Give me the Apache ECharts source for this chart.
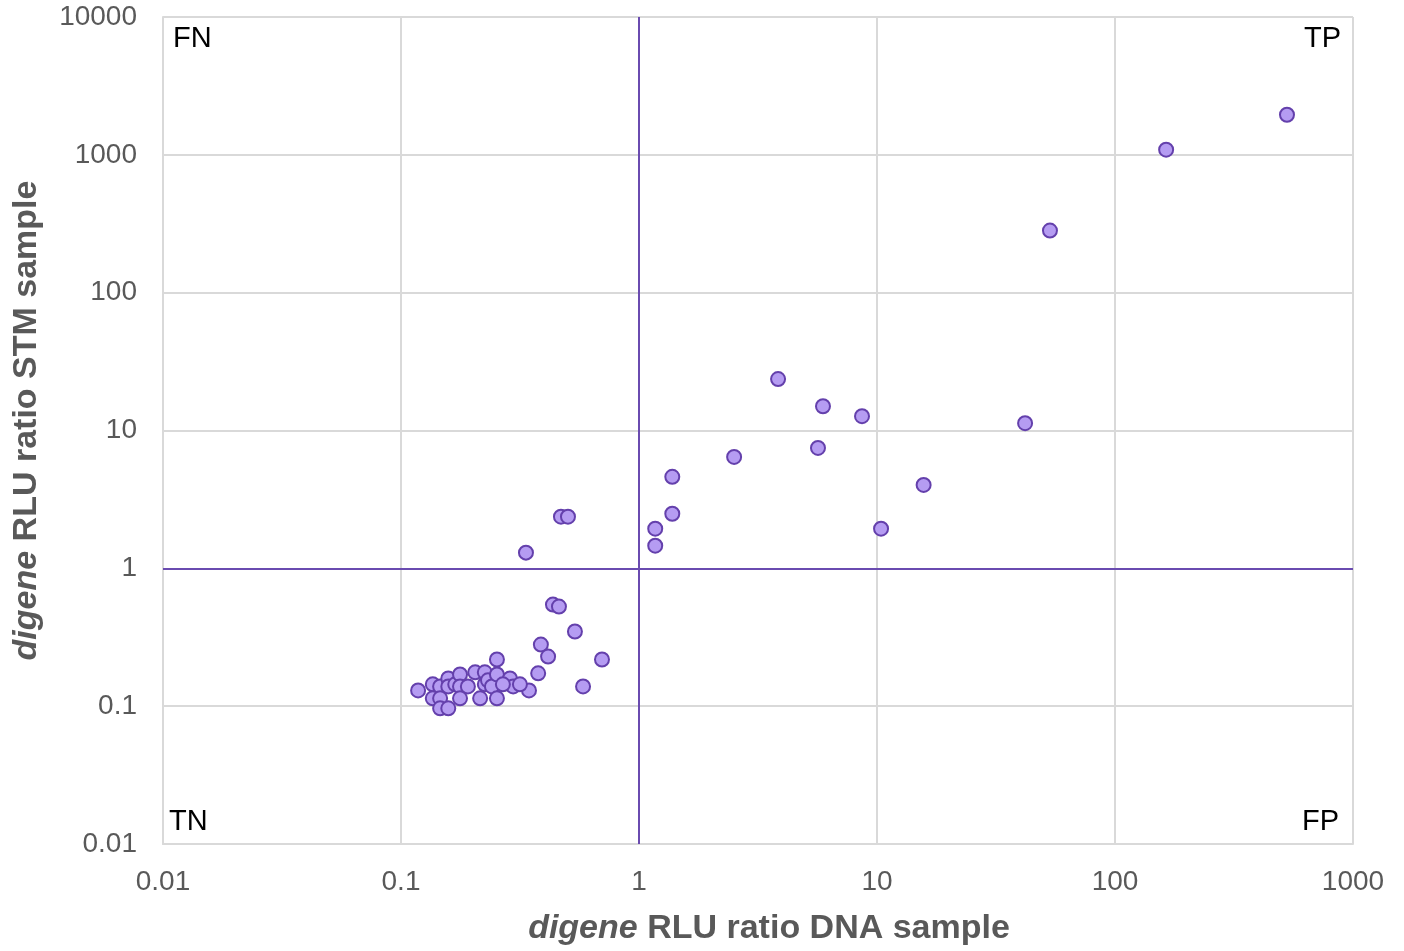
<!DOCTYPE html>
<html><head><meta charset="utf-8">
<script src="https://cdn.jsdelivr.net/npm/echarts@6/dist/echarts.min.js"></script>
<style>html,body{margin:0;padding:0;background:#fff}#c{width:1404px;height:951px}</style>
</head><body><div id="c"></div>
<script>
const dnaRatio = [528,164,53.3,3.84,5.93,8.65,41.9,5.65,2.51,1.38,15.7,1.38,1.17,10.4,1.17,0.47,0.503,0.335,
  0.435,0.461,0.538,0.387,0.415,0.699,0.377,0.582,0.345,
  0.118,0.136,0.136,0.146,0.146,0.146,0.158,0.158,0.158,0.169,0.177,0.177,0.177,0.191,0.205,0.215,0.225,0.225,0.232,0.241,0.253,0.253,0.253,0.287,0.296,0.316,0.268];
const stmRatio = [1954,1090,282,23.6,15.0,12.7,11.3,7.47,6.43,4.61,4.03,2.49,1.94,1.94,1.46,2.37,2.37,1.30,
  0.546,0.528,0.348,0.280,0.229,0.218,0.173,0.139,0.130,
  0.130,0.144,0.114,0.139,0.114,0.0965,0.159,0.139,0.0965,0.144,0.170,0.139,0.114,0.139,0.176,0.114,0.176,0.144,0.154,0.139,0.218,0.170,0.114,0.159,0.139,0.144,0.144];
const quadrantLabels = ['FN','TP','TN','FP'];
const xName = ['digene',' RLU ratio DNA sample'];
const yName = ['digene',' RLU ratio STM sample'];

const chart = echarts.init(document.getElementById('c'));
const grey = '#595959';
const nameRich = {
  i:{fontStyle:'italic',fontWeight:'bold',fontSize:34,color:grey,fontFamily:'Liberation Sans'},
  b:{fontWeight:'bold',fontSize:34,color:grey,fontFamily:'Liberation Sans'}
};
const pts = dnaRatio.map((v,i)=>[v,stmRatio[i]]);
const qStyle = {fontSize:29,fill:'#000',fontFamily:'Liberation Sans'};
chart.setOption({
  animation:false,
  grid:{left:163,right:51,top:17,bottom:105},
  xAxis:{type:'log',logBase:10,min:0.01,max:1000,
    name:'{i|'+xName[0]+'}{b|'+xName[1]+'}',nameLocation:'middle',nameGap:68,
    nameTextStyle:{rich:nameRich,padding:[0,0,0,22]},
    axisLine:{lineStyle:{color:'#d9d9d9',width:2}},axisTick:{show:false},
    axisLabel:{fontSize:28,color:grey,margin:24,fontFamily:'Liberation Sans',formatter:v=>String(+v.toPrecision(6))},
    splitLine:{lineStyle:{color:'#d9d9d9',width:2}},minorTick:{show:false}},
  yAxis:{type:'log',logBase:10,min:0.01,max:10000,
    name:'{i|'+yName[0]+'}{b|'+yName[1]+'}',nameLocation:'middle',nameGap:119,
    nameTextStyle:{rich:nameRich,padding:[0,0,0,20]},
    axisLine:{show:true,lineStyle:{color:'#d9d9d9',width:2}},axisTick:{show:false},
    axisLabel:{fontSize:28,color:grey,margin:26,fontFamily:'Liberation Sans',formatter:v=>String(+v.toPrecision(6))},
    splitLine:{lineStyle:{color:'#d9d9d9',width:2}}},
  series:[{
    type:'scatter',data:pts,symbolSize:14,
    itemStyle:{color:'#b59cf2',borderColor:'#6440ac',borderWidth:2,opacity:1},
    z:5,
    markLine:{silent:true,symbol:['none','none'],label:{show:false},
      lineStyle:{color:'#6a4bb0',width:2,type:'solid'},
      data:[{xAxis:1},{yAxis:1}]}
  }],
  graphic:[
    {type:'text',left:173,top:24,style:Object.assign({text:quadrantLabels[0]},qStyle)},
    {type:'text',right:63,top:24,style:Object.assign({text:quadrantLabels[1]},qStyle)},
    {type:'text',left:169,top:807,style:Object.assign({text:quadrantLabels[2]},qStyle)},
    {type:'text',right:65,top:807,style:Object.assign({text:quadrantLabels[3]},qStyle)}
  ]
});
</script></body></html>
